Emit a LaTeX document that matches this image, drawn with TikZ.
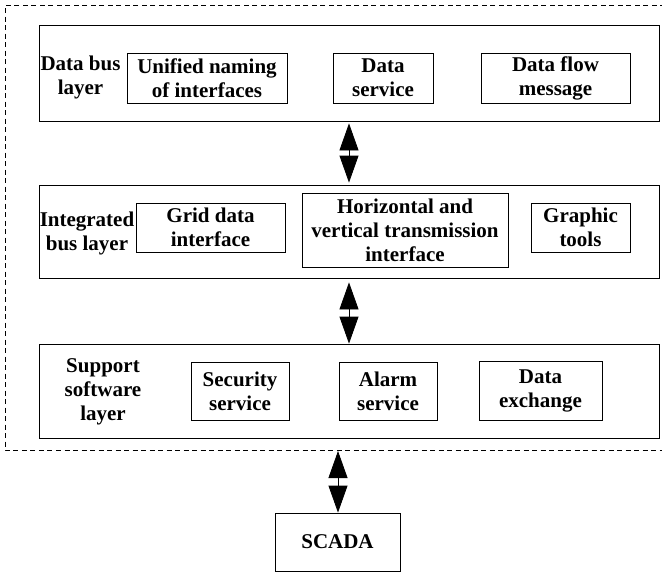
\documentclass[tikz,border=0pt]{standalone}
\usepackage{fontspec}
\setmainfont{Liberation Serif}
\usetikzlibrary{arrows.meta}
\begin{document}
\begin{tikzpicture}[x=1pt,y=-1pt,
  every node/.style={font=\fontsize{21}{24}\selectfont\bfseries, align=center, inner sep=0pt},
  layerbox/.style={draw, line width=0.8pt, rectangle},
  itembox/.style={draw, line width=0.8pt, rectangle},
  dbl/.style={line width=0.8pt, {Triangle[width=19pt,length=27pt]}-{Triangle[width=19pt,length=27pt]}}
]
\useasboundingbox (0,0) rectangle (662,573);
% dashed outer frame
\draw[line width=0.8pt, dash pattern=on 5pt off 3.5pt] (665,5) -- (5,5) -- (5,450) -- (665,450);
\coordinate (dtop) at (338,451);

% layers
\node[layerbox, minimum width=620pt, minimum height=96pt] (b1) at (349,73) {};
\node[layerbox, minimum width=620pt, minimum height=93pt] (b2) at (349,231.5) {};
\node[layerbox, minimum width=620pt, minimum height=94pt] (b3) at (349,391) {};

% layer 1
\node (l1) at (80.5,77) {Data bus\\layer};
\node[itembox, minimum width=160pt, minimum height=50pt] (u1) at (207,78) {Unified naming\\of interfaces};
\node[itembox, minimum width=100pt, minimum height=50pt] (u2) at (383,78) {Data\\service};
\node[itembox, minimum width=149pt, minimum height=50pt] (u3) at (555.5,78) {Data flow\\message};

% layer 2
\node (l2) at (87,233) {Integrated\\bus layer};
\node[itembox, minimum width=149pt, minimum height=49pt] (g1) at (210.5,227.5) {Grid data\\interface};
\node[itembox, minimum width=206pt, minimum height=74pt] (g2) at (405,230) {Horizontal and\\vertical transmission\\interface};
\node[itembox, minimum width=99pt, minimum height=49pt] (g3) at (580.5,227.5) {Graphic\\tools};

% layer 3
\node (l3) at (103,392) {Support\\software\\layer};
\node[itembox, minimum width=98pt, minimum height=58pt] (s1) at (240,391) {Security\\service};
\node[itembox, minimum width=98pt, minimum height=58pt] (s2) at (388,391) {Alarm\\service};
\node[itembox, minimum width=123pt, minimum height=59pt] (s3) at (540.5,390.5) {Data\\exchange};

% SCADA
\node[itembox, minimum width=125pt, minimum height=58pt] (sc) at (337.5,542) {SCADA};

% arrows
\coordinate (ax) at (349,0);
\coordinate (bx) at (338,0);
\draw[dbl, shorten <=2pt, shorten >=2pt] (b1.south -| ax) -- (b2.north -| ax);
\draw[dbl, shorten <=4pt] (b2.south -| ax) -- (b3.north -| ax);
\draw[dbl] (dtop) -- (sc.north -| bx);
\end{tikzpicture}
\end{document}
